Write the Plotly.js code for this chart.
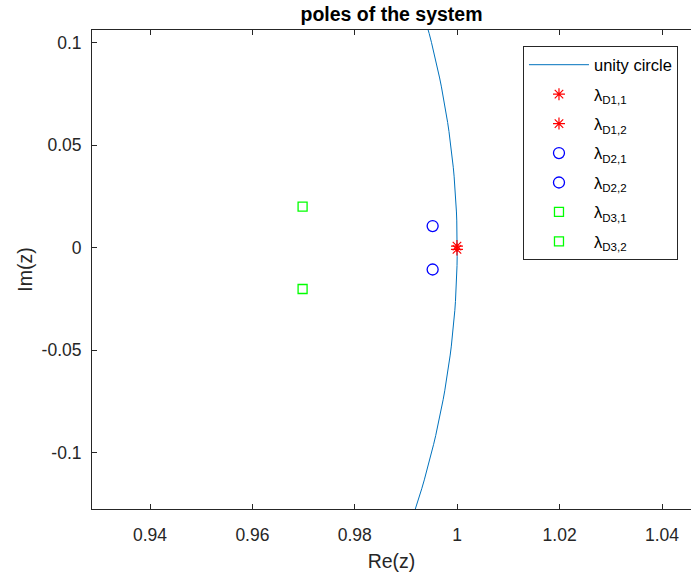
<!DOCTYPE html>
<html>
<head>
<meta charset="utf-8">
<script src="https://cdn.plot.ly/plotly-3.0.1.min.js"></script>
<style>html,body{margin:0;padding:0;background:#fff}#chart{width:691px;height:575px}</style>
</head>
<body>
<div id="chart"></div>
<script>
// Pole locations
const d1Re = [0.99995, 0.99995];
const d1Im = [0.0008, -0.0008];
const d2Re = [0.9952, 0.9952];
const d2Im = [0.0106, -0.0106];
const d3Re = [0.9698, 0.9698];
const d3Im = [0.0201, -0.0201];
const seriesNames = ['unity circle', 'λ<sub>D1,1</sub>', 'λ<sub>D1,2</sub>', 'λ<sub>D2,1</sub>', 'λ<sub>D2,2</sub>', 'λ<sub>D3,1</sub>', 'λ<sub>D3,2</sub>'];
const xTicks = [0.94, 0.96, 0.98, 1, 1.02, 1.04];
const xTickText = ['0.94', '0.96', '0.98', '1', '1.02', '1.04'];
const yTicks = [-0.1, -0.05, 0, 0.05, 0.1];
const yTickText = ['-0.1', '-0.05', '0', '0.05', '0.1'];

// The unity circle |z| = 1 (exact definition of the curve)
const circleRe = [], circleIm = [];
for (let i = 0; i <= 1440; i++) {
  const t = -Math.PI + 2 * Math.PI * i / 1440;
  circleRe.push(Math.cos(t));
  circleIm.push(Math.sin(t));
}

const font = {family: 'Liberation Sans, Arial, Helvetica, sans-serif', color: '#262626'};
const traces = [
  {x: circleRe, y: circleIm, mode: 'lines', name: seriesNames[0], legendgroup: 'g0', line: {color: '#0072BD', width: 1}},
  {x: [d1Re[0]], y: [d1Im[0]], mode: 'markers', name: seriesNames[1], legendgroup: 'g1', marker: {symbol: 'asterisk-open', size: 10, line: {color: '#FF0000', width: 1.2}, color: '#FF0000'}},
  {x: [d1Re[1]], y: [d1Im[1]], mode: 'markers', name: seriesNames[2], legendgroup: 'g2', marker: {symbol: 'asterisk-open', size: 10, line: {color: '#FF0000', width: 1.2}, color: '#FF0000'}},
  {x: [d2Re[0]], y: [d2Im[0]], mode: 'markers', name: seriesNames[3], legendgroup: 'g3', marker: {symbol: 'circle-open', size: 11, line: {color: '#0000FF', width: 1.3}, color: '#0000FF'}},
  {x: [d2Re[1]], y: [d2Im[1]], mode: 'markers', name: seriesNames[4], legendgroup: 'g4', marker: {symbol: 'circle-open', size: 11, line: {color: '#0000FF', width: 1.3}, color: '#0000FF'}},
  {x: [d3Re[0]], y: [d3Im[0]], mode: 'markers', name: seriesNames[5], legendgroup: 'g5', marker: {symbol: 'square-open', size: 9, line: {color: '#00FF00', width: 1.3}, color: '#00FF00'}},
  {x: [d3Re[1]], y: [d3Im[1]], mode: 'markers', name: seriesNames[6], legendgroup: 'g6', marker: {symbol: 'square-open', size: 9, line: {color: '#00FF00', width: 1.3}, color: '#00FF00'}}
];

const axisCommon = {
  showgrid: false, zeroline: false, showline: true, linecolor: '#262626', linewidth: 1,
  ticks: 'inside', ticklen: 5, tickcolor: '#262626', tickwidth: 1,
  tickfont: Object.assign({size: 17.5}, font), automargin: false
};

const layout = {
  width: 691, height: 575,
  margin: {l: 92, r: 0, t: 30, b: 66},
  paper_bgcolor: '#ffffff', plot_bgcolor: '#ffffff',
  font: font,
  title: {text: '<b>poles of the system</b>', font: Object.assign({size: 19.5}, font, {color: '#000000'}),
          xref: 'paper', x: 0.5, xanchor: 'center', yref: 'container', y: 1 - 14 / 575, yanchor: 'middle'},
  xaxis: Object.assign({}, axisCommon, {range: [0.92867, 1.04566], tickvals: xTicks, ticktext: xTickText, mirror: 'ticks',
          ticklabelstandoff: 10,
          title: {text: 'Re(z)', font: Object.assign({size: 19.5}, font), standoff: 10}}),
  yaxis: Object.assign({}, axisCommon, {range: [-0.1274, 0.1062], tickvals: yTicks, ticktext: yTickText, mirror: false,
          ticklabelstandoff: 6,
          title: {text: 'Im(z)', font: Object.assign({size: 19.5}, font), standoff: 3}}),
  showlegend: true,
  legend: {x: 0.7195, y: 0.9656, xanchor: 'left', yanchor: 'top', bgcolor: '#ffffff', bordercolor: '#262626', borderwidth: 1,
           font: Object.assign({size: 16.5}, font, {color: '#000000'}), tracegroupgap: 5, itemwidth: 60}
};

Plotly.newPlot('chart', traces, layout, {displayModeBar: false, staticPlot: true});
</script>
</body>
</html>
